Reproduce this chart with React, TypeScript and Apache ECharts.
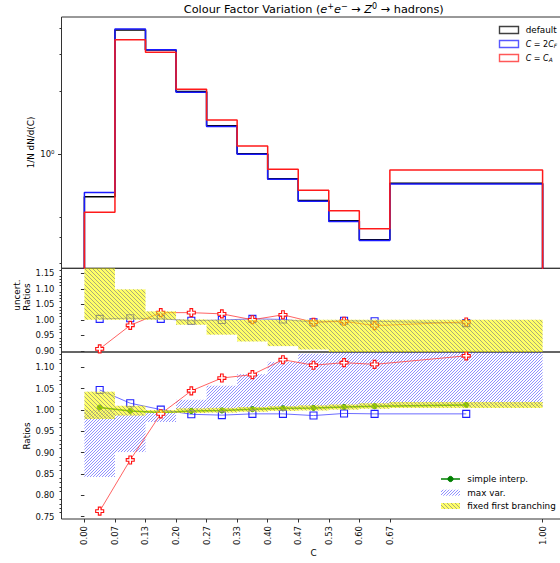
import React, { useEffect, useRef } from "react";
import * as echarts from "echarts";

// ---------- data ----------
const EDGES = [0, 0.06667, 0.13333, 0.2, 0.26667, 0.33333, 0.4, 0.46667, 0.53333, 0.6, 0.66667, 1.0];

// main panel: 1/N dN/d(C)
const H_DEFAULT = [0.625, 3.92, 3.14, 1.99, 1.366, 1.003, 0.762, 0.6, 0.48, 0.389, 0.724];
const H_2CF = [0.654, 3.96, 3.15, 1.975, 1.355, 0.997, 0.757, 0.595, 0.476, 0.386, 0.718];
const H_CA = [0.526, 3.52, 3.07, 2.04, 1.455, 1.092, 0.845, 0.67, 0.535, 0.439, 0.838];

// middle panel: uncertainty ratios
const U_2CF = [1.003, 1.005, 1.003, 0.997, 0.999, 1.003, 1.001, 0.992, 0.997, 0.995, 0.989];
const U_CA = [0.906, 0.982, 1.023, 1.023, 1.019, 1.0, 1.016, 0.992, 0.995, 0.981, 0.993];
const U_FFB_LO = [1.0, 1.0, 1.0, 0.984, 0.952, 0.93, 0.915, 0.904, 0.88, 0.88, 0.88];
const U_FFB_HI = [1.2, 1.098, 1.027, 1.001, 1.0, 1.0, 1.0, 1.0, 1.0, 1.0, 1.0];

// bottom panel: ratios
const R_2CF = [1.047, 1.016, 1.001, 0.99, 0.988, 0.991, 0.991, 0.987, 0.992, 0.991, 0.991];
const R_CA = [0.763, 0.883, 0.991, 1.045, 1.075, 1.083, 1.118, 1.105, 1.111, 1.107, 1.127];
const R_SIMPLE = [1.006, 0.998, 0.994, 0.998, 0.999, 1.002, 1.004, 1.005, 1.007, 1.009, 1.012];
const R_MAX_LO = [0.843, 0.9015, 0.972, 1.0, 1.0, 1.0, 1.0, 1.002, 1.004, 1.006, 1.008];
const R_MAX_HI = [1.0, 0.99, 0.997, 1.024, 1.057, 1.084, 1.113, 1.132, 1.2, 1.2, 1.2];
const R_FFB_LO = [0.979, 0.987, 0.993, 0.993, 0.994, 0.996, 0.998, 0.999, 1.001, 1.003, 1.005];
const R_FFB_HI = [1.043, 1.01, 1.0, 1.004, 1.005, 1.007, 1.009, 1.011, 1.013, 1.016, 1.019];

// ticks
const X_TICKS = EDGES;
const LOG_MIN = 0.284;
const LOG_MAX = 4.52;
const LOG_MAJOR = [1];
const LOG_MINOR = [0.3, 0.4, 0.5, 2, 3, 4];
const MID_TICKS = [0.9, 0.95, 1.0, 1.05, 1.1, 1.15];
const BOT_TICKS = [0.75, 0.8, 0.85, 0.9, 0.95, 1.0, 1.05, 1.1];

// ---------- helpers ----------
const minorList = (lo: number, hi: number, step: number, majors: number[]) => {
  const out: number[] = [];
  for (let k = Math.round(lo / step); k * step <= hi + 1e-9; k++) {
    const v = +(k * step).toFixed(4);
    if (!majors.some((m) => Math.abs(m - v) < 1e-6)) out.push(v);
  }
  return out;
};

function hatchLines(left: number, top: number, right: number, bottom: number, dir: string, spacing: number, style: any) {
  const out: any[] = [];
  if (dir === "/") {
    const cMin = Math.ceil((left + top) / spacing) * spacing;
    for (let c = cMin; c <= right + bottom; c += spacing) {
      const xa = Math.max(left, c - bottom);
      const xb = Math.min(right, c - top);
      if (xb > xa) out.push({ type: "line", silent: true, shape: { x1: xa, y1: c - xa, x2: xb, y2: c - xb }, style });
    }
  } else {
    const cMin = Math.ceil((top - right) / spacing) * spacing;
    for (let c = cMin; c <= bottom - left; c += spacing) {
      const xa = Math.max(left, top - c);
      const xb = Math.min(right, bottom - c);
      if (xb > xa) out.push({ type: "line", silent: true, shape: { x1: xa, y1: xa + c, x2: xb, y2: xb + c }, style });
    }
  }
  return out;
}

const BLUE_HATCH = { dir: "/", spacing: 3, fill: "none", stroke: "rgba(70,70,255,0.6)" };
const YELLOW_HATCH = { dir: "\\", spacing: 4, fill: "rgba(255,255,0,0.6)", stroke: "rgba(90,90,140,0.5)" };

const bandRender = (h: any) => (params: any, api: any) => {
  const cs = params.coordSys;
  const a = api.coord([api.value(0), api.value(3)]);
  const b = api.coord([api.value(1), api.value(2)]);
  const left = Math.max(Math.min(a[0], b[0]), cs.x);
  const right = Math.min(Math.max(a[0], b[0]), cs.x + cs.width);
  const top = Math.max(Math.min(a[1], b[1]), cs.y);
  const bottom = Math.min(Math.max(a[1], b[1]), cs.y + cs.height);
  if (right <= left || bottom <= top) return { type: "group", children: [] };
  return {
    type: "group",
    children: [
      { type: "rect", shape: { x: left, y: top, width: right - left, height: bottom - top }, style: { fill: h.fill, stroke: "none" } },
      ...hatchLines(left, top, right, bottom, h.dir, h.spacing, { stroke: h.stroke, lineWidth: 1 }),
    ],
  };
};

const bandData = (lo: number[], hi: number[]) => lo.map((l, i) => [EDGES[i], EDGES[i + 1], l, hi[i]]);
const centers = EDGES.slice(0, -1).map((e, i) => (e + EDGES[i + 1]) / 2);
const pts = (vals: number[]) => vals.map((v, i) => [centers[i], v]);
const stepData = (vals: number[]) => {
  const d: number[][] = [[EDGES[0], 0.01]];
  vals.forEach((v, i) => d.push([EDGES[i], v]));
  d.push([EDGES[EDGES.length - 1], vals[vals.length - 1]]);
  d.push([EDGES[EDGES.length - 1], 0.01]);
  return d;
};

const CROSS = "path://M-1,-3L1,-3L1,-1L3,-1L3,1L1,1L1,3L-1,3L-1,1L-3,1L-3,-1L-1,-1Z";

const FONT = "DejaVu Sans";
const TICK_FS = 8.5;

export default function App() {
  const ref = useRef<HTMLDivElement>(null);
  useEffect(() => {
    if (!ref.current) return;
    const chart = echarts.init(ref.current, undefined, { renderer: "svg" });

    const L = 61.5, W = 504;
    const gridBase = { left: L, width: W, show: true, borderColor: "#333", borderWidth: 1, backgroundColor: "transparent", containLabel: false, outerBoundsMode: "none" };
    const xBase = { type: "value", min: -0.05, max: 1.05, splitLine: { show: false }, axisLine: { show: false } };
    const hiddenX = { ...xBase, axisTick: { show: false }, axisLabel: { show: false } };
    const yLabel = { fontSize: TICK_FS, color: "#111", fontFamily: FONT, margin: 7 };
    const yBase = { position: "left", offset: 0, splitLine: { show: false }, axisLine: { show: false } };

    const markerSeries = (name: string, data: number[][], xi: number, yi: number, kind: string) => {
      if (kind === "sq")
        return {
          name, type: "line", xAxisIndex: xi, yAxisIndex: yi, data, z: 4,
          symbol: "rect", symbolSize: 7, showSymbol: true,
          itemStyle: { color: "rgba(0,0,0,0)", borderColor: "#2020ff", borderWidth: 1.1 },
          lineStyle: { color: "rgba(60,60,255,0.75)", width: 1 },
        };
      return {
        name, type: "line", xAxisIndex: xi, yAxisIndex: yi, data, z: 4,
        symbol: CROSS, symbolSize: 8, showSymbol: true,
        itemStyle: { color: "#ffffff", borderColor: "#ff1010", borderWidth: 1.1 },
        lineStyle: { color: "rgba(255,60,60,0.8)", width: 1 },
      };
    };

    const legendTop = [
      { c: "#000000", t: "default", fs: 8.8 },
      { c: "#2020ff", t: "{i|C} = 2{i|C}{sub|F}", fs: 8 },
      { c: "#ff2020", t: "{i|C} = {i|C}{sub|A}", fs: 8 },
    ];
    const legRich = {
      i: { fontStyle: "italic", fontSize: 8, fontFamily: FONT, fill: "#000" },
      sub: { fontSize: 5.8, fontStyle: "italic", fontFamily: FONT, verticalAlign: "bottom", padding: [4, 0, 0, 0], fill: "#000" },
    };
    const graphics: any[] = [];
    legendTop.forEach((e, k) => {
      const yc = 30 + k * 14;
      graphics.push({ type: "rect", shape: { x: 499.5, y: yc - 3.5, width: 19, height: 7 }, style: { fill: "none", stroke: e.c, lineWidth: 1.4, opacity: 0.75 } });
      graphics.push({ type: "text", x: 525.7, y: yc, style: { text: e.t, rich: legRich, fontSize: e.fs, fontFamily: FONT, fill: "#000", align: "left", verticalAlign: "middle", textAlign: "left", textVerticalAlign: "middle" } });
    });
    // bottom legend
    graphics.push({ type: "line", shape: { x1: 441, y1: 479, x2: 460, y2: 479 }, style: { stroke: "#008000", lineWidth: 1.5 } });
    graphics.push({ type: "circle", shape: { cx: 450.5, cy: 479, r: 2.6 }, style: { fill: "#008000", stroke: "#008000" } });
    graphics.push({ type: "group", children: hatchLines(441, 489.7, 460, 495.7, "/", 3, { stroke: BLUE_HATCH.stroke, lineWidth: 1 }) });
    graphics.push({ type: "rect", shape: { x: 441, y: 503, width: 19, height: 6 }, style: { fill: YELLOW_HATCH.fill, stroke: "none" } });
    graphics.push({ type: "group", children: hatchLines(441, 503, 460, 509, "\\", 4, { stroke: YELLOW_HATCH.stroke, lineWidth: 1 }) });
    ["simple interp.", "max var.", "fixed first branching"].forEach((t, k) => {
      graphics.push({ type: "text", x: 467.3, y: 479 + k * 13.5, style: { text: t, fontSize: 8.8, fontFamily: FONT, fill: "#000", align: "left", verticalAlign: "middle", textAlign: "left", textVerticalAlign: "middle" } });
    });
    // title
    graphics.push({
      type: "text", x: 313.8, y: 9.5,
      style: {
        text: "Colour Factor Variation ({i|e}{s|+}{i|e}{s|−} → {i|Z}{s|0} → hadrons)",
        fontSize: 11.3, fontFamily: FONT, fill: "#000", align: "center", verticalAlign: "middle", textAlign: "center", textVerticalAlign: "middle",
        rich: {
          i: { fontStyle: "italic", fontSize: 11.3, fontFamily: FONT, fill: "#000" },
          s: { fontSize: 8, fontFamily: FONT, verticalAlign: "bottom", padding: [0, 0, 6, 0], fill: "#000" },
        },
      },
    });
    // axis names
    const yName = (x: number, y: number, text: string, align: string) => ({
      type: "text", x, y, rotation: Math.PI / 2,
      style: { text, fontSize: 8.8, fontFamily: FONT, fill: "#000", align, verticalAlign: "middle", textAlign: align, textVerticalAlign: "middle", lineHeight: 10.5 },
    });
    graphics.push(yName(31, 142.5, "1/N dN/d(C)", "center"));
    graphics.push(yName(21.8, 310.7, "uncert.\nRatios", "left"));
    graphics.push(yName(27, 436, "Ratios", "center"));
    graphics.push({ type: "text", x: 313.5, y: 553, style: { text: "C", fontSize: 8.8, fontFamily: FONT, fill: "#000", align: "center", verticalAlign: "middle", textAlign: "center", textVerticalAlign: "middle" } });

    const lg = Math.log10;
    const option: any = {
      animation: false,
      textStyle: { fontFamily: FONT },
      grid: [
        { ...gridBase, top: 17, height: 251.3 },
        { ...gridBase, top: 268.3, height: 83.7 },
        { ...gridBase, top: 352, height: 167 },
      ],
      xAxis: [
        { ...hiddenX, gridIndex: 0 },
        { ...hiddenX, gridIndex: 1 },
        {
          ...xBase, gridIndex: 2,
          axisTick: { show: true, length: 3.5, customValues: X_TICKS, lineStyle: { color: "#333" } },
          axisLabel: { show: true, customValues: X_TICKS, rotate: 90, fontSize: TICK_FS, color: "#111", fontFamily: FONT, margin: 7, formatter: (v: number) => v.toFixed(2) },
        },
      ],
      yAxis: [
        // 0: data axis (log)
        {
          ...yBase, type: "log", logBase: 10, gridIndex: 0, min: LOG_MIN, max: LOG_MAX,
          axisTick: { show: false }, axisLabel: { show: false },
        },
        // 1: major ticks in log10 space
        {
          ...yBase, type: "value", gridIndex: 0, min: lg(LOG_MIN), max: lg(LOG_MAX),
          axisTick: { show: true, length: 3.5, customValues: LOG_MAJOR.map(lg), lineStyle: { color: "#333" } },
          axisLabel: { ...yLabel, customValues: LOG_MAJOR.map(lg), formatter: (v: number) => "10" + (Math.round(v) === 0 ? "⁰" : String(Math.round(v))) },
        },
        // 2: middle
        {
          ...yBase, type: "value", gridIndex: 1, min: 0.896, max: 1.166,
          axisTick: { show: true, length: 3.5, customValues: MID_TICKS, lineStyle: { color: "#333" } },
          axisLabel: { ...yLabel, customValues: MID_TICKS, formatter: (v: number) => v.toFixed(2) },
        },
        // 3: middle minor
        {
          ...yBase, type: "value", gridIndex: 1, min: 0.896, max: 1.166,
          axisTick: { show: true, length: 2, customValues: minorList(0.9, 1.16, 0.01, MID_TICKS), lineStyle: { color: "#333" } },
          axisLabel: { show: false },
        },
        // 4: bottom
        {
          ...yBase, type: "value", gridIndex: 2, min: 0.7446, max: 1.136,
          axisTick: { show: true, length: 3.5, customValues: BOT_TICKS, lineStyle: { color: "#333" } },
          axisLabel: { ...yLabel, customValues: BOT_TICKS, formatter: (v: number) => v.toFixed(2) },
        },
        // 5: bottom minor
        {
          ...yBase, type: "value", gridIndex: 2, min: 0.7446, max: 1.136,
          axisTick: { show: true, length: 2, customValues: minorList(0.75, 1.13, 0.01, BOT_TICKS), lineStyle: { color: "#333" } },
          axisLabel: { show: false },
        },
        // 6: main minor ticks in log10 space
        {
          ...yBase, type: "value", gridIndex: 0, min: lg(LOG_MIN), max: lg(LOG_MAX),
          axisTick: { show: true, length: 2, customValues: LOG_MINOR.map(lg), lineStyle: { color: "#333" } },
          axisLabel: { show: false },
        },
      ],
      series: [
        // main panel
        { name: "default", type: "line", step: "end", xAxisIndex: 0, yAxisIndex: 0, data: stepData(H_DEFAULT), showSymbol: false, lineStyle: { color: "#000000", width: 1.5 }, z: 3 },
        { name: "2CF", type: "line", step: "end", xAxisIndex: 0, yAxisIndex: 0, data: stepData(H_2CF), showSymbol: false, lineStyle: { color: "#1a1aff", width: 1.5 }, z: 3 },
        { name: "CA", type: "line", step: "end", xAxisIndex: 0, yAxisIndex: 0, data: stepData(H_CA), showSymbol: false, lineStyle: { color: "#ff1a1a", width: 1.5 }, z: 3 },
        // middle panel
        markerSeries("u2cf", pts(U_2CF), 1, 2, "sq"),
        markerSeries("uca", pts(U_CA), 1, 2, "cross"),
        { name: "uffb", type: "custom", xAxisIndex: 1, yAxisIndex: 2, data: bandData(U_FFB_LO, U_FFB_HI), encode: { x: [0, 1], y: [2, 3] }, renderItem: bandRender(YELLOW_HATCH), z: 6, silent: true },
        // bottom panel
        { name: "maxvar", type: "custom", xAxisIndex: 2, yAxisIndex: 4, data: bandData(R_MAX_LO, R_MAX_HI), encode: { x: [0, 1], y: [2, 3] }, renderItem: bandRender(BLUE_HATCH), z: 1, silent: true },
        {
          name: "simple", type: "line", xAxisIndex: 2, yAxisIndex: 4, data: pts(R_SIMPLE), z: 4, symbol: "circle", symbolSize: 5, showSymbol: true,
          itemStyle: { color: "#008000", borderColor: "#008000" }, lineStyle: { color: "#008000", width: 1.5 },
        },
        markerSeries("r2cf", pts(R_2CF), 2, 4, "sq"),
        markerSeries("rca", pts(R_CA), 2, 4, "cross"),
        { name: "rffb", type: "custom", xAxisIndex: 2, yAxisIndex: 4, data: bandData(R_FFB_LO, R_FFB_HI), encode: { x: [0, 1], y: [2, 3] }, renderItem: bandRender(YELLOW_HATCH), z: 6, silent: true },
      ],
      graphic: graphics,
    };
    chart.setOption(option);
    return () => chart.dispose();
  }, []);
  return <div ref={ref} style={{ position: "fixed", left: 0, top: 0, width: 560, height: 563, background: "#fff" }} />;
}
